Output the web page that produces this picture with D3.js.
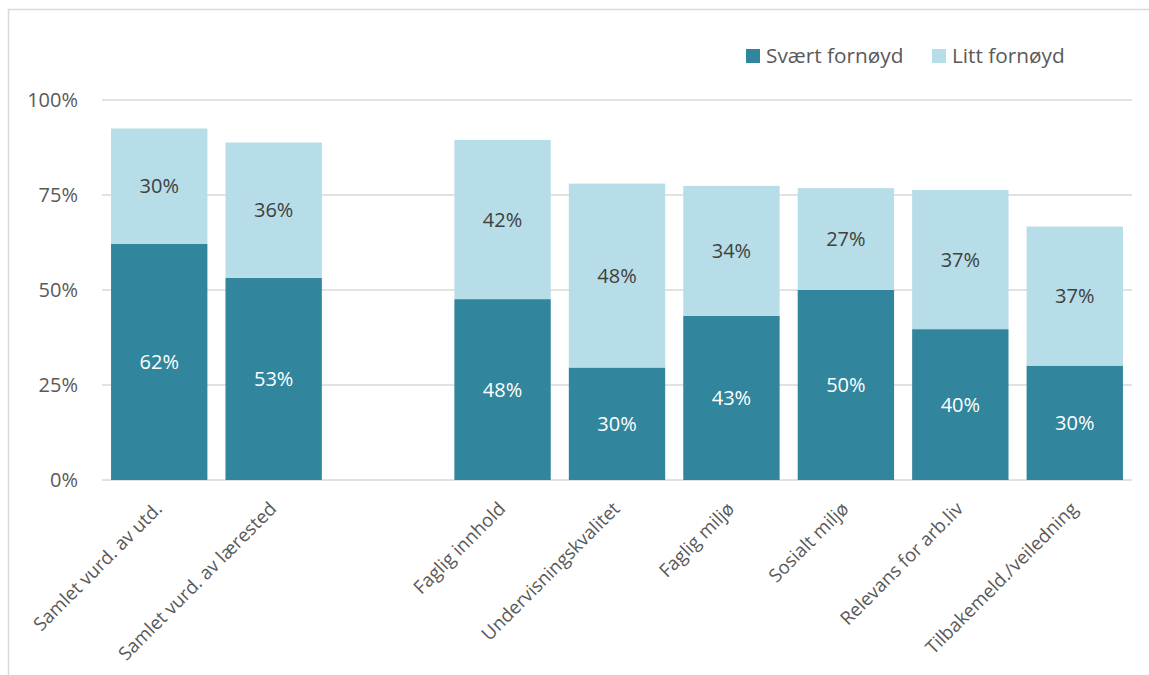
<!DOCTYPE html>
<html lang="no">
<head>
  <meta charset="UTF-8">
  <title>Fornøydhet</title>
  <style>
    body { margin: 0; background: #fff; }
    svg { display: block; font-family: "Open Sans", sans-serif; }
    .grid line { stroke: #d9d9d9; stroke-width: 1.5; }
    .tick-label { fill: #595959; font-size: 20px; }
    .legend text { fill: #595959; font-size: 20.8px; }
    .cat-label { fill: #595959; font-size: 18.6px; }
  </style>
  <script src="https://d3js.org/d3.v7.min.js"></script>
</head>
<body>
  <div id="chart"></div>
  <script>
    // data
    var categories = ["Samlet vurd. av utd.", "Samlet vurd. av lærested", "",
      "Faglig innhold", "Undervisningskvalitet", "Faglig miljø",
      "Sosialt miljø", "Relevans for arb.liv", "Tilbakemeld./veiledning"];
    var svaert = [62.1, 53.2, null, 47.6, 29.6, 43.2, 50.0, 39.7, 30.1];
    var litt   = [30.4, 35.6, null, 41.9, 48.4, 34.2, 26.8, 36.6, 36.6];
    var seriesNames = ["Svært fornøyd", "Litt fornøyd"];
    var yTicks = [0, 25, 50, 75, 100];

    var W = 1149, H = 675;
    var plot = { left: 102, right: 1132, top: 100, bottom: 480 };

    var svg = d3.select("#chart").append("svg")
      .attr("width", W).attr("height", H);

    // ytre ramme (klippet på høyre/nede som i bildet)
    svg.append("rect")
      .attr("x", 8.5).attr("y", 9.5)
      .attr("width", W + 20).attr("height", H + 20)
      .attr("fill", "none").attr("stroke", "#d9d9d9").attr("stroke-width", 1.5);

    var x = d3.scaleBand().domain(d3.range(categories.length))
      .range([plot.left, plot.right]).paddingInner(0.158).paddingOuter(0.079);
    var y = d3.scaleLinear().domain([0, 100]).range([plot.bottom, plot.top]);

    // rutenett
    svg.append("g").attr("class", "grid")
      .selectAll("line").data(yTicks).enter().append("line")
      .attr("x1", plot.left).attr("x2", plot.right)
      .attr("y1", function(d) { return y(d); })
      .attr("y2", function(d) { return y(d); });

    svg.append("g").selectAll("text").data(yTicks).enter().append("text")
      .attr("class", "tick-label")
      .attr("x", 78).attr("y", function(d) { return y(d); })
      .attr("dy", "0.36em").attr("text-anchor", "end")
      .text(function(d) { return d + "%"; });

    var colors = ["#31859c", "#b7dde8"];
    var rows = categories.map(function(c, i) {
      return { i: i, a: svaert[i], b: litt[i] };
    }).filter(function(d) { return d.a != null; });

    var g = svg.append("g");
    // nedre del
    g.selectAll(".seg-a").data(rows).enter().append("rect")
      .attr("x", function(d) { return x(d.i); })
      .attr("width", x.bandwidth())
      .attr("y", function(d) { return y(d.a); })
      .attr("height", function(d) { return y(0) - y(d.a); })
      .attr("fill", colors[0]);
    // øvre del
    g.selectAll(".seg-b").data(rows).enter().append("rect")
      .attr("x", function(d) { return x(d.i); })
      .attr("width", x.bandwidth())
      .attr("y", function(d) { return y(d.a + d.b); })
      .attr("height", function(d) { return y(d.a) - y(d.a + d.b); })
      .attr("fill", colors[1]);

    // verdietiketter
    g.selectAll(".lab-a").data(rows).enter().append("text")
      .attr("x", function(d) { return x(d.i) + x.bandwidth() / 2; })
      .attr("y", function(d) { return y(d.a / 2); })
      .attr("dy", "0.36em").attr("text-anchor", "middle")
      .attr("fill", "#ffffff").style("font-size", "20px")
      .text(function(d) { return Math.round(d.a) + "%"; });
    g.selectAll(".lab-b").data(rows).enter().append("text")
      .attr("x", function(d) { return x(d.i) + x.bandwidth() / 2; })
      .attr("y", function(d) { return y(d.a + d.b / 2); })
      .attr("dy", "0.36em").attr("text-anchor", "middle")
      .attr("fill", "#404040").style("font-size", "20px")
      .text(function(d) { return Math.round(d.b) + "%"; });

    // kategorietiketter
    svg.append("g").selectAll("text").data(categories).enter().append("text")
      .attr("class", "cat-label")
      .attr("text-anchor", "end")
      .attr("transform", function(d, i) {
        return "translate(" + (x(i) + x.bandwidth() / 2 + 4) + "," + 510 + ") rotate(-45)";
      })
      .text(function(d) { return d; });

    // forklaring
    var legend = svg.append("g").attr("class", "legend");
    var lx = [746, 932];
    seriesNames.forEach(function(s, i) {
      legend.append("rect").attr("x", lx[i]).attr("y", 49)
        .attr("width", 14).attr("height", 14).attr("fill", colors[i]);
      legend.append("text").attr("x", lx[i] + 20).attr("y", 56)
        .attr("dy", "0.36em").text(s);
    });
  </script>
</body>
</html>
